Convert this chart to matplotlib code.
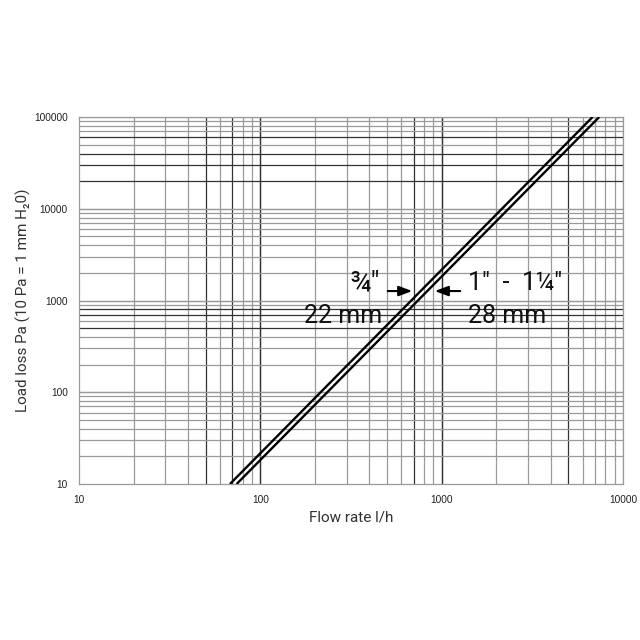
import matplotlib
matplotlib.use("Agg")
import matplotlib.pyplot as plt
import numpy as np

# Data (pressure loss ~ Q^2)
flow_22mm = [68, 6800]        # l/h
loss_22mm = [10, 100000]      # Pa
flow_28mm = [74, 7400]        # l/h
loss_28mm = [10, 100000]      # Pa

x_ticks = [10, 100, 1000, 10000]
x_tick_labels = ["10", "100", "1000", "10000"]
y_ticks = [10, 100, 1000, 10000, 100000]
y_tick_labels = ["10", "100", "1000", "10000", "100000"]

x_dark = [50, 70, 100, 700, 1000, 5000]
y_dark = [500, 700, 800, 20000, 30000, 40000, 60000]

fig = plt.figure(figsize=(6.4, 6.4), dpi=100)
ax = fig.add_axes([0.1234, 0.2437, 0.8500, 0.5735])
ax.set_xscale("log")
ax.set_yscale("log")
ax.set_xlim(10, 10000)
ax.set_ylim(10, 100000)

# grid lines
for e in range(1, 4):
    for m in range(1, 11):
        v = m * 10 ** e
        if v <= 10 or v > 10000:
            continue
        dark = v in x_dark
        ax.axvline(v, color="#333333" if dark else "#9a9a9a", lw=0.9, zorder=1)
for e in range(1, 5):
    for m in range(1, 11):
        v = m * 10 ** e
        if v <= 10 or v > 100000:
            continue
        dark = v in y_dark
        ax.axhline(v, color="#333333" if dark else "#9a9a9a", lw=0.9, zorder=1)

ax.plot(flow_22mm, loss_22mm, color="black", lw=1.7, zorder=3, solid_capstyle="butt")
ax.plot(flow_28mm, loss_28mm, color="black", lw=1.7, zorder=3, solid_capstyle="butt")

for s in ax.spines.values():
    s.set_color("#9a9a9a")
    s.set_linewidth(0.9)

ax.set_xticks(x_ticks)
ax.set_xticklabels(x_tick_labels)
ax.set_yticks(y_ticks)
ax.set_yticklabels(y_tick_labels)
ax.minorticks_off()
ax.tick_params(length=0, labelsize=7.3, colors="#222222", pad=8)
for lab in ax.get_xticklabels() + ax.get_yticklabels():
    lab.set_family("Liberation Sans")

ax.set_xlabel("Flow rate l/h", family=["Roboto", "DejaVu Sans"], fontsize=11,
              color="#333333", labelpad=4)
ax.set_ylabel("Load loss Pa (10 Pa = 1 mm H\u20820)", family=["Roboto", "DejaVu Sans"],
              fontsize=11, color="#333333", labelpad=2)

tf = ["Roboto", "DejaVu Sans"]
ax.text(0.553, 0.548, "\u00be\u2033", transform=ax.transAxes, ha="right", va="center",
        fontsize=20, family=tf, zorder=4, color="#111111")
ax.text(0.715, 0.548, "1\u2033  -  1\u00bc\u2033", transform=ax.transAxes, ha="left", va="center",
        fontsize=18, family=tf, zorder=4, color="#111111")
ax.text(0.557, 0.458, "22 mm", transform=ax.transAxes, ha="right", va="center",
        fontsize=18, family=tf, zorder=4, color="#111111")
ax.text(0.715, 0.458, "28 mm", transform=ax.transAxes, ha="left", va="center",
        fontsize=18, family=tf, zorder=4, color="#111111")

ax.annotate("", xy=(713, 1268), xytext=(487, 1268),
            arrowprops=dict(arrowstyle="-|>,head_length=0.8,head_width=0.3", color="black", lw=1.5),
            zorder=4)
ax.annotate("", xy=(885, 1268), xytext=(1312, 1268),
            arrowprops=dict(arrowstyle="-|>,head_length=0.8,head_width=0.3", color="black", lw=1.5),
            zorder=4)

fig.savefig("out.png", dpi=100, facecolor="white")
